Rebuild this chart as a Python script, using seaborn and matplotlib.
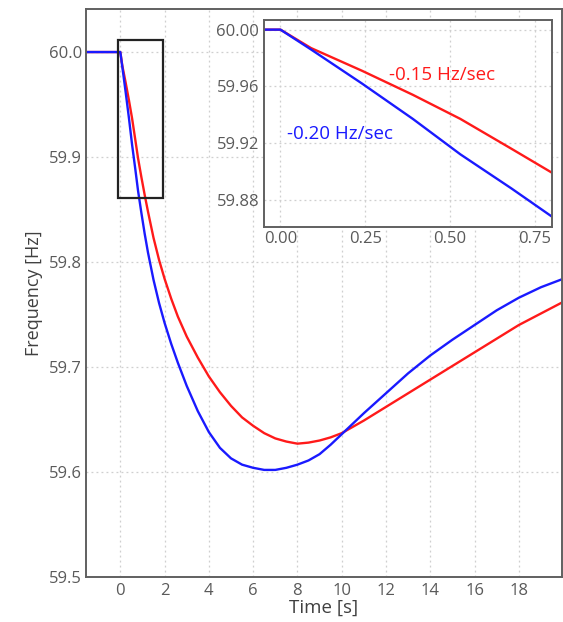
import matplotlib
matplotlib.use("Agg")
import matplotlib.pyplot as plt
from matplotlib.patches import Rectangle
import pandas as pd
import seaborn as sns

# Grid frequency after a loss-of-generation event, two inertia cases
time_s = [-1.5, 0.0, 0.09, 0.24, 0.39, 0.53, 0.68, 0.8, 0.95, 1.1, 1.25,
          1.5, 1.75, 2.0, 2.3, 2.6, 3.0, 3.5, 4.0, 4.5, 5.0, 5.5, 6.0, 6.5,
          7.0, 7.5, 8.0, 8.5, 9.0, 9.5, 10.0, 11.0, 12.0, 13.0, 14.0, 15.0,
          16.0, 17.0, 18.0, 19.0, 20.0]

freq_rocof_015 = [60.0, 60.0, 59.987, 59.971, 59.954, 59.937, 59.916, 59.899,
                  59.881, 59.864, 59.848, 59.823, 59.802, 59.784, 59.765,
                  59.748, 59.729, 59.709, 59.691, 59.676, 59.663, 59.652,
                  59.644, 59.637, 59.632, 59.629, 59.627, 59.628, 59.630,
                  59.633, 59.637, 59.649, 59.662, 59.675, 59.688, 59.701,
                  59.714, 59.727, 59.740, 59.751, 59.762]

freq_rocof_020 = [60.0, 60.0, 59.986, 59.962, 59.937, 59.912, 59.888, 59.868,
                  59.847, 59.827, 59.809, 59.783, 59.761, 59.742, 59.722,
                  59.704, 59.682, 59.658, 59.638, 59.623, 59.613, 59.607,
                  59.604, 59.602, 59.602, 59.604, 59.607, 59.611, 59.617,
                  59.626, 59.636, 59.656, 59.675, 59.694, 59.711, 59.726,
                  59.740, 59.754, 59.766, 59.776, 59.784]

series_labels = ["-0.15 Hz/sec", "-0.20 Hz/sec"]
series_colors = ["#ff1a1a", "#1a1aff"]

main_xticks = [0, 2, 4, 6, 8, 10, 12, 14, 16, 18]
main_yticks = [59.5, 59.6, 59.7, 59.8, 59.9, 60.0]
inset_xticks = [0.00, 0.25, 0.50, 0.75]
inset_yticks = [59.88, 59.92, 59.96, 60.00]

df = pd.DataFrame({
    "Time [s]": time_s * 2,
    "Frequency [Hz]": freq_rocof_015 + freq_rocof_020,
    "case": [series_labels[0]] * len(time_s) + [series_labels[1]] * len(time_s),
})
palette = dict(zip(series_labels, series_colors))

sns.set_style("whitegrid")
plt.rcParams["font.family"] = ["Open Sans", "DejaVu Sans"]

W, H = 563, 622
fig = plt.figure(figsize=(W / 100, H / 100), dpi=100)

spine_col = "#606060"
tick_col = "#5a5a5a"
grid_kw = dict(color="#cfcfcf", linestyle=(0, (1.5, 2.5)), linewidth=0.9)


def style_axes(ax):
    ax.grid(True, **grid_kw)
    for s in ax.spines.values():
        s.set_visible(True)
        s.set_color(spine_col)
        s.set_linewidth(1.4)
    ax.tick_params(length=0, colors=tick_col, labelsize=12)


# Main axes
ax = fig.add_axes([86 / W, 1 - 577 / H, (562 - 86) / W, (577 - 9) / H])
sns.lineplot(data=df, x="Time [s]", y="Frequency [Hz]", hue="case",
             hue_order=series_labels, palette=palette, estimator=None,
             linewidth=1.7, legend=False, ax=ax)
ax.set_xlim(-1.55, 19.95)
ax.set_ylim(59.5, 60.041)
ax.set_xticks(main_xticks)
ax.set_yticks(main_yticks)
ax.set_yticklabels([f"{v:.1f}" for v in main_yticks])
style_axes(ax)
ax.tick_params(axis="y", pad=3)
ax.tick_params(axis="x", pad=4)
ax.set_xlabel("Time [s]", fontsize=13.5, color="#404040", labelpad=0)
ax.set_ylabel("Frequency [Hz]", fontsize=13, color="#404040", labelpad=4)

# Zoom window marker
ax.add_patch(Rectangle((-0.09, 59.861), 2.0, 0.150, fill=False,
                       edgecolor="#222222", linewidth=1.6, zorder=5))

# Inset with the first 0.8 s
axin = fig.add_axes([263.5 / W, 1 - 227.3 / H, (552 - 263.5) / W, (227.3 - 20) / H])
axin.set_facecolor("white")
sns.lineplot(data=df, x="Time [s]", y="Frequency [Hz]", hue="case",
             hue_order=series_labels, palette=palette, estimator=None,
             linewidth=1.7, legend=False, ax=axin)
axin.set_xlim(-0.05, 0.8)
axin.set_ylim(59.8605, 60.0068)
axin.set_xticks(inset_xticks)
axin.set_yticks(inset_yticks)
axin.set_xticklabels([f"{v:.2f}" for v in inset_xticks])
axin.set_yticklabels([f"{v:.2f}" for v in inset_yticks])
style_axes(axin)
axin.tick_params(axis="y", pad=3)
axin.tick_params(axis="x", pad=3)
axin.set_xlabel("")
axin.set_ylabel("")

axin.text(0.319, 59.968, series_labels[0], color=series_colors[0],
          fontsize=13.5, va="center", ha="left")
axin.text(0.020, 59.926, series_labels[1], color=series_colors[1],
          fontsize=13.5, va="center", ha="left")

fig.savefig("out.png", dpi=100)
